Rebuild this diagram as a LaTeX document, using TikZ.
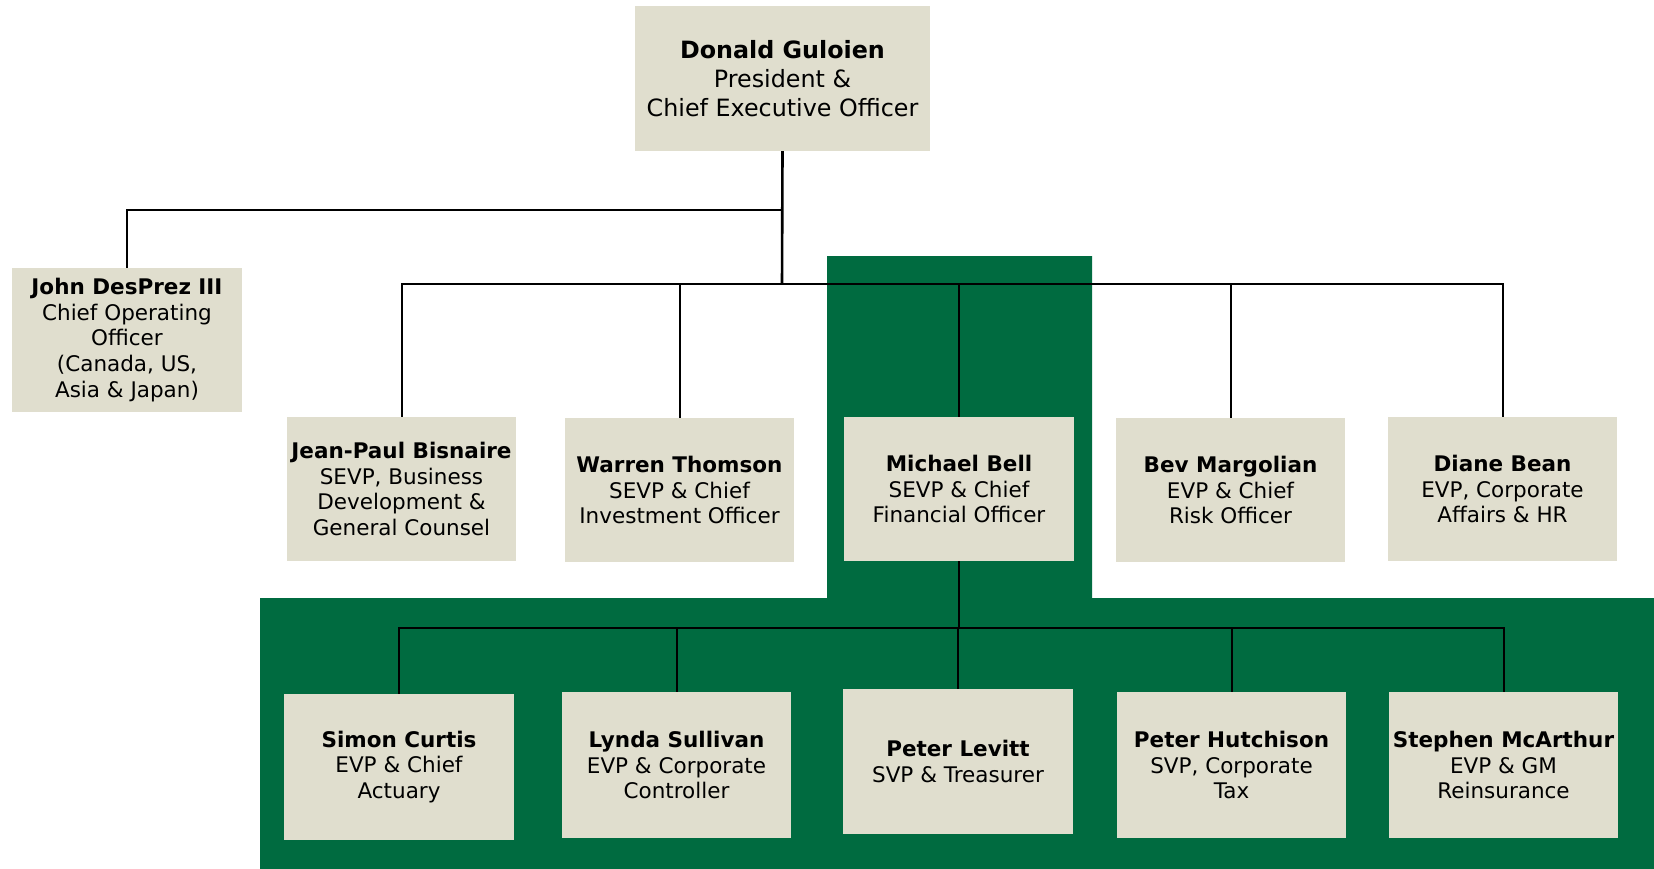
\documentclass[tikz,border=0pt]{standalone}
\usepackage{fontspec}
\setmainfont{DejaVu Sans}
\definecolor{boxfill}{RGB}{224,222,206}
\definecolor{bggreen}{RGB}{0,107,64}
\tikzset{
  person/.style={rectangle, fill=boxfill, inner sep=0pt, align=center,
    minimum width=229pt, minimum height=144pt, text=black,
    font={\fontsize{21.5}{25.7}\selectfont}},
  topperson/.style={person, minimum width=295pt, minimum height=145pt,
    font={\fontsize{23.8}{29}\selectfont}},
  link/.style={draw=black, line width=2pt},
  trunk/.style={draw=black, line width=2.6pt}
}
\begin{document}
\begin{tikzpicture}[x=1pt,y=-1pt]
\useasboundingbox (0,0) rectangle (1654,869);
\fill[bggreen] (260,598) -- (827,598) -- (827,256) -- (1092,256) -- (1092,598)
  -- (1654,598) -- (1654,869) -- (260,869) -- cycle;

\coordinate (bar0) at (782,210);
\coordinate (bar1) at (782,284);
\coordinate (bar2) at (959,627.5);

\node[topperson] (ceo) at (782.5,78.5) {\textbf{Donald Guloien}\\President \&\\Chief Executive Officer};
\node[person, minimum width=230pt] (coo) at (127,340) {\textbf{John DesPrez III}\\Chief Operating\\Officer\\(Canada, US,\\Asia \& Japan)};
\node[person] (jp) at (401.5,489) {\textbf{Jean-Paul Bisnaire}\\SEVP, Business\\Development \&\\General Counsel};
\node[person] (wt) at (679.5,490) {\textbf{Warren Thomson}\\SEVP \& Chief\\Investment Officer};
\node[person, minimum width=230pt] (mb) at (959,489) {\textbf{Michael Bell}\\SEVP \& Chief\\Financial Officer};
\node[person] (bm) at (1230.5,490) {\textbf{Bev Margolian}\\EVP \& Chief\\Risk Officer};
\node[person] (db) at (1502.5,489) {\textbf{Diane Bean}\\EVP, Corporate\\Affairs \& HR};

\node[person, minimum width=230pt, minimum height=146pt] (sc) at (399,767) {\textbf{Simon Curtis}\\EVP \& Chief\\Actuary};
\node[person, minimum height=146pt] (ls) at (676.5,765) {\textbf{Lynda Sullivan}\\EVP \& Corporate\\Controller};
\node[person, minimum width=230pt, minimum height=145pt] (pl) at (958,761.5) {\textbf{Peter Levitt}\\SVP \& Treasurer};
\node[person, minimum height=146pt] (ph) at (1231.5,765) {\textbf{Peter Hutchison}\\SVP, Corporate\\Tax};
\node[person, minimum height=146pt] (sm) at (1503.5,765) {\textbf{Stephen McArthur}\\EVP \& GM\\Reinsurance};

\draw[trunk] (ceo.south) -- (bar1);
\draw[link] (coo.north) |- (bar0);
\draw[link] (jp.north) |- (bar1);
\draw[link] (wt.north) |- (bar1);
\draw[link] (mb.north) |- (bar1);
\draw[link] (bm.north) |- (bar1);
\draw[link] (db.north) |- (bar1);

\draw[link] (mb.south) -- (bar2);
\draw[link] (sc.north) |- (bar2);
\draw[link] (ls.north) |- (bar2);
\draw[link] (pl.north) |- (bar2);
\draw[link] (ph.north) |- (bar2);
\draw[link] (sm.north) |- (bar2);
\end{tikzpicture}
\end{document}
